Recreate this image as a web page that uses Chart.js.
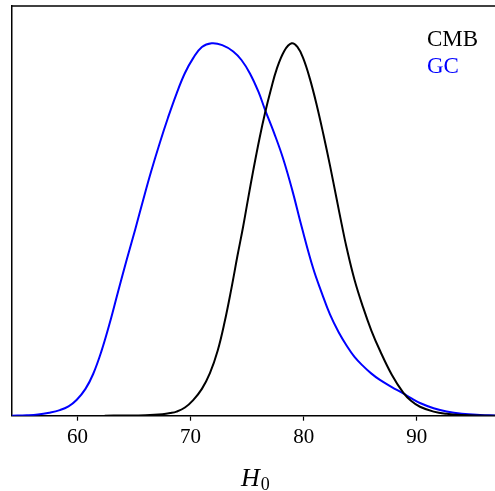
<!DOCTYPE html>
<html>
<head>
<meta charset="utf-8">
<script src="https://cdn.jsdelivr.net/npm/chart.js@4.4.1/dist/chart.umd.min.js"></script>
<style>
  html, body { margin: 0; padding: 0; background: #fff; }
  #wrap { width: 495px; height: 491px; position: relative; }
</style>
</head>
<body>
<div id="wrap"><canvas id="c" width="495" height="491"></canvas></div>
<script>
// ---- Data ----
const seriesNames = ["CMB", "GC"];
const seriesColors = ["#000000", "#0000ff"];

const cmbH = [62.4, 64, 66, 67.5, 68.2, 68.76, 69.5, 70.23, 71.0, 71.71, 72.4, 73.0, 73.6, 74.15, 74.65, 75.1, 75.54, 76.1, 76.58, 77.1, 77.61, 78.3, 78.94, 79.45, 79.96, 80.55, 81.15, 81.75, 82.33, 82.9, 83.36, 83.81, 84.5, 85.27, 86.0, 86.75, 87.8, 88.81, 89.5, 90.29, 91.5, 92.65, 94, 95.6, 97];
const cmbDensity = [0, 0.0005, 0.0015, 0.004, 0.007, 0.011, 0.022, 0.042, 0.072, 0.114, 0.175, 0.25, 0.34, 0.43, 0.508, 0.585, 0.658, 0.745, 0.812, 0.875, 0.93, 0.98, 1.0, 0.99, 0.96, 0.905, 0.835, 0.755, 0.672, 0.585, 0.515, 0.45, 0.365, 0.29, 0.228, 0.175, 0.11, 0.062, 0.04, 0.024, 0.011, 0.005, 0.0018, 0.0004, 0];

const gcH = [54.2, 55.5, 56.5, 57.5, 58.43, 59.2, 59.91, 60.7, 61.38, 62.1, 62.86, 63.6, 64.34, 65.1, 65.81, 66.5, 67.28, 68.0, 68.76, 69.5, 70.23, 71.0, 71.86, 72.8, 73.77, 74.5, 75.25, 76.0, 76.58, 77.4, 78.19, 79.0, 79.82, 80.85, 81.6, 82.33, 83.1, 83.81, 84.5, 85.27, 86.0, 86.75, 87.8, 88.81, 89.5, 90.29, 91.5, 92.65, 94.0, 95.6, 97];
const gcDensity = [0, 0.001, 0.003, 0.008, 0.015, 0.025, 0.042, 0.072, 0.112, 0.172, 0.25, 0.335, 0.418, 0.5, 0.58, 0.655, 0.733, 0.8, 0.865, 0.92, 0.96, 0.99, 1.0, 0.995, 0.978, 0.955, 0.919, 0.87, 0.822, 0.758, 0.69, 0.605, 0.508, 0.395, 0.33, 0.272, 0.224, 0.188, 0.158, 0.133, 0.113, 0.096, 0.077, 0.06, 0.047, 0.034, 0.02, 0.011, 0.005, 0.0018, 0.0005];

const xTickValues = [60, 70, 80, 90];
const xRange = [54.2, 96.93];
const yRange = [0, 1.1];
const xAxisSymbol = "H";
const xAxisSubscript = "0";

function toPoints(xs, ys) { return xs.map((x, i) => ({ x: x, y: ys[i] })); }

const SERIF = "'Liberation Serif', 'DejaVu Serif', serif";

const framePlugin = {
  id: 'frame',
  afterDraw(chart) {
    const ctx = chart.ctx;
    const a = chart.chartArea;
    ctx.save();
    // top spine
    ctx.strokeStyle = '#000';
    ctx.lineWidth = 1.5;
    ctx.beginPath();
    ctx.moveTo(a.left - 0.75, a.top);
    ctx.lineTo(a.right + 2, a.top);
    ctx.stroke();
    // legend (text only, coloured)
    ctx.font = "23px " + SERIF;
    ctx.textAlign = 'left';
    ctx.textBaseline = 'alphabetic';
    const lx = 427, ly = [45.5, 72.5];
    chart.data.datasets.forEach((ds, i) => {
      ctx.fillStyle = ds.borderColor;
      ctx.fillText(ds.label, lx, ly[i]);
    });
    // x axis title H_0
    ctx.fillStyle = '#000';
    ctx.font = "italic 26px " + SERIF;
    const hw = ctx.measureText(xAxisSymbol).width;
    ctx.fillText(xAxisSymbol, 241, 486);
    ctx.font = "18px " + SERIF;
    ctx.fillText(xAxisSubscript, 241 + hw + 1, 490);
    ctx.restore();
  }
};

new Chart(document.getElementById('c'), {
  type: 'scatter',
  data: {
    datasets: [
      { label: seriesNames[0], data: toPoints(cmbH, cmbDensity), borderColor: seriesColors[0] },
      { label: seriesNames[1], data: toPoints(gcH, gcDensity), borderColor: seriesColors[1] }
    ].map(d => Object.assign(d, {
      showLine: true, pointRadius: 0, borderWidth: 2, fill: false,
      tension: 0.4, backgroundColor: d.borderColor
    }))
  },
  options: {
    responsive: false,
    animation: false,
    layout: { padding: { left: 12, top: 6, right: 0, bottom: 0 } },
    plugins: { legend: { display: false }, tooltip: { enabled: false } },
    scales: {
      x: {
        type: 'linear',
        min: xRange[0], max: xRange[1],
        afterBuildTicks: (s) => { s.ticks = xTickValues.map(v => ({ value: v })); },
        afterFit: (s) => { s.height = 75.3; },
        grid: { drawOnChartArea: false, drawTicks: true, tickLength: 5, color: '#000', tickWidth: 1.2 },
        border: { display: true, color: '#000', width: 1.5 },
        ticks: { color: '#000', font: { family: SERIF, size: 21 }, padding: 4, maxRotation: 0 }
      },
      y: {
        type: 'linear',
        min: yRange[0], max: yRange[1],
        afterFit: (s) => { s.width = 0; },
        grid: { display: false },
        border: { display: true, color: '#000', width: 1.5 },
        ticks: { display: false }
      }
    }
  },
  plugins: [framePlugin]
});
</script>
</body>
</html>
